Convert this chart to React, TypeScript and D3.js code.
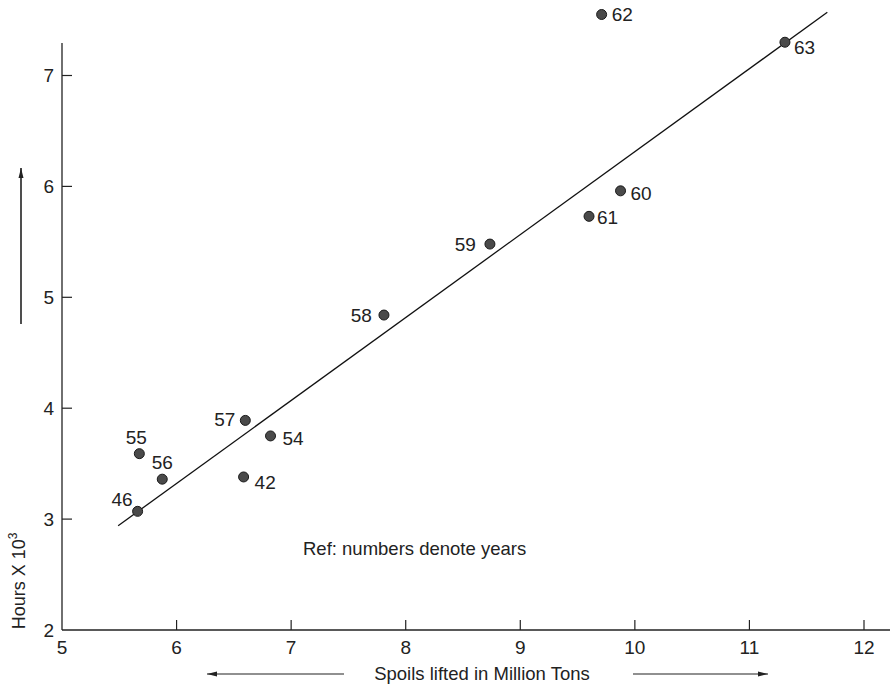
import React, { useEffect, useRef } from 'react';
import * as d3 from 'd3';

// data
const years = ['62', '63', '60', '61', '59', '58', '57', '54', '42', '55', '56', '46'];
const spoils = [9.71, 11.31, 9.875, 9.6, 8.735, 7.81, 6.6, 6.82, 6.585, 5.675, 5.875, 5.66];
const hours = [7.55, 7.3, 5.96, 5.73, 5.48, 4.84, 3.89, 3.75, 3.38, 3.59, 3.36, 3.07];

const fitX = [5.49, 11.68];
const fitY = [2.94, 7.57];

const xTicks = [5, 6, 7, 8, 9, 10, 11, 12];
const yTicks = [2, 3, 4, 5, 6, 7];

// where each year label sits relative to its dot
const labelPos: Record<string, [number, number, string]> = {
  '62': [10, 0, 'start'],
  '63': [9, 5, 'start'],
  '60': [10, 2, 'start'],
  '61': [8, 1, 'start'],
  '59': [-14, 0, 'end'],
  '58': [-12, 0, 'end'],
  '57': [-10, -1, 'end'],
  '54': [12, 2, 'start'],
  '42': [11, 5, 'start'],
  '55': [-3, -17, 'middle'],
  '56': [0, -17, 'middle'],
  '46': [-5, -12, 'end'],
};

const FONT = '"Liberation Sans", Arial, Helvetica, sans-serif';
const INK = '#222';

const App = () => {
  const svgRef = useRef<SVGSVGElement>(null);

  useEffect(() => {
    const svg = d3.select(svgRef.current);
    svg.selectAll('*').remove();

    const x = d3.scaleLinear().domain([5, 12]).range([62, 864]);
    const y = d3.scaleLinear().domain([2, 7]).range([630, 75.5]);

    const defs = svg.append('defs');
    defs.append('marker')
      .attr('id', 'arr')
      .attr('viewBox', '0 0 10 6')
      .attr('refX', 10).attr('refY', 3)
      .attr('markerWidth', 10).attr('markerHeight', 6)
      .attr('markerUnits', 'userSpaceOnUse')
      .attr('orient', 'auto-start-reverse')
      .append('path')
      .attr('d', 'M0,0.5 L10,3 L0,5.5 Z')
      .attr('fill', INK);

    // axes lines
    svg.append('line')
      .attr('x1', x(5)).attr('x2', x(5))
      .attr('y1', 43).attr('y2', y(2))
      .attr('stroke', INK).attr('stroke-width', 1.3);
    svg.append('line')
      .attr('x1', x(5)).attr('x2', 890)
      .attr('y1', y(2)).attr('y2', y(2))
      .attr('stroke', INK).attr('stroke-width', 1.3);

    // y ticks
    const yt = svg.append('g');
    yt.selectAll('line').data(yTicks.slice(1)).enter().append('line')
      .attr('x1', x(5)).attr('x2', x(5) + 10)
      .attr('y1', d => y(d)).attr('y2', d => y(d))
      .attr('stroke', INK).attr('stroke-width', 1.2);
    yt.selectAll('text').data(yTicks).enter().append('text')
      .attr('x', 54).attr('y', d => y(d))
      .attr('dy', '0.36em')
      .attr('text-anchor', 'end')
      .attr('font-family', FONT).attr('font-size', 19).attr('fill', INK)
      .text(d => d);

    // x ticks
    const xt = svg.append('g');
    xt.selectAll('line').data(xTicks.slice(1)).enter().append('line')
      .attr('x1', d => x(d)).attr('x2', d => x(d))
      .attr('y1', y(2)).attr('y2', y(2) - 10)
      .attr('stroke', INK).attr('stroke-width', 1.2);
    xt.selectAll('text').data(xTicks).enter().append('text')
      .attr('x', d => x(d)).attr('y', 654)
      .attr('text-anchor', 'middle')
      .attr('font-family', FONT).attr('font-size', 19).attr('fill', INK)
      .text(d => d);

    // fitted line
    svg.append('path')
      .datum(fitX.map((v, i) => [v, fitY[i]] as [number, number]))
      .attr('fill', 'none')
      .attr('stroke', '#111')
      .attr('stroke-width', 1.3)
      .attr('d', d3.line<[number, number]>().x(d => x(d[0])).y(d => y(d[1])));

    // dots
    const pts = years.map((yr, i) => ({ yr, sx: spoils[i], hy: hours[i] }));
    svg.selectAll('.dot').data(pts).enter().append('circle')
      .attr('class', 'dot')
      .attr('cx', d => x(d.sx)).attr('cy', d => y(d.hy))
      .attr('r', 5)
      .attr('fill', '#4a4a4a')
      .attr('stroke', '#1a1a1a').attr('stroke-width', 1);

    // year labels
    svg.selectAll('.yr').data(pts).enter().append('text')
      .attr('class', 'yr')
      .attr('x', d => x(d.sx) + labelPos[d.yr][0])
      .attr('y', d => y(d.hy) + labelPos[d.yr][1])
      .attr('dy', '0.36em')
      .attr('text-anchor', d => labelPos[d.yr][2])
      .attr('font-family', FONT).attr('font-size', 19).attr('fill', INK)
      .text(d => d.yr);

    // note
    svg.append('text')
      .attr('x', 303).attr('y', 555)
      .attr('font-family', FONT).attr('font-size', 18.5).attr('fill', INK)
      .text('Ref: numbers denote years');

    // x axis title with arrows
    svg.append('text')
      .attr('x', 482).attr('y', 680)
      .attr('text-anchor', 'middle')
      .attr('font-family', FONT).attr('font-size', 18.5).attr('fill', INK)
      .text('Spoils lifted in Million Tons');
    svg.append('line')
      .attr('x1', 344).attr('x2', 207).attr('y1', 674).attr('y2', 674)
      .attr('stroke', INK).attr('stroke-width', 1.2)
      .attr('marker-end', 'url(#arr)');
    svg.append('line')
      .attr('x1', 633).attr('x2', 768).attr('y1', 674).attr('y2', 674)
      .attr('stroke', INK).attr('stroke-width', 1.2)
      .attr('marker-end', 'url(#arr)');

    // y axis title with arrow
    const yl = svg.append('text')
      .attr('transform', 'translate(25,581) rotate(-90)')
      .attr('text-anchor', 'middle')
      .attr('font-family', FONT).attr('font-size', 18).attr('fill', INK);
    yl.append('tspan').text('Hours X 10');
    yl.append('tspan').attr('dy', -8).attr('font-size', 12).text('3');
    svg.append('line')
      .attr('x1', 21).attr('x2', 21).attr('y1', 324).attr('y2', 168)
      .attr('stroke', INK).attr('stroke-width', 1.6)
      .attr('marker-end', 'url(#arr)');
  }, []);

  return (
    <svg
      ref={svgRef}
      width={892}
      height={687}
      style={{ position: 'absolute', left: 0, top: 0, background: '#fff' }}
    />
  );
};

export default App;
